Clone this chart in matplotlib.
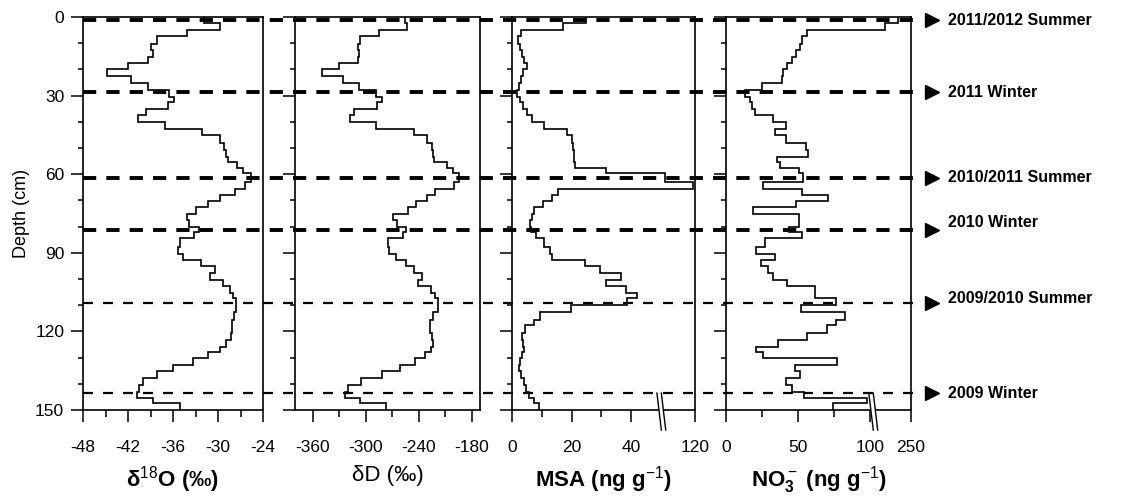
import numpy as np
import matplotlib
matplotlib.use('Agg')
import matplotlib.pyplot as plt
from matplotlib.ticker import FixedLocator, MultipleLocator

plt.rcParams['font.family'] = ['Liberation Sans', 'DejaVu Sans']
plt.rcParams['axes.unicode_minus'] = False
plt.rcParams['mathtext.fontset'] = 'custom'
plt.rcParams['mathtext.rm'] = 'Liberation Sans'
plt.rcParams['mathtext.bf'] = 'Liberation Sans:bold'
plt.rcParams['mathtext.it'] = 'Liberation Sans:italic'

# sample depth boundaries (cm)
depth_edges = [0, 2.3, 5.1, 7.4, 10.2, 12.7, 15.3, 17.4, 20.0, 22.6, 25.2, 27.7, 30.5,
               32.4, 35.0, 37.5, 40.0, 42.6, 45.1, 48.0, 50.8, 53.4, 55.3, 57.6, 59.7,
               62.9, 65.5, 67.8, 70.3, 72.7, 75.0, 77.5, 80.1, 82.0, 84.5, 87.7, 90.3,
               92.8, 95.1, 97.6, 100.4, 102.7, 105.5, 107.4, 110.0, 112.5, 115.7, 117.6,
               120.8, 123.3, 125.8, 127.8, 130.3, 132.8, 135.0, 137.9, 140.5, 143.0,
               145.5, 147.5, 150.0]

d18o = [-31.9, -29.8, -34.2, -38.2, -38.9, -38.7, -39.3, -42.0, -44.8, -41.6, -39.3, -36.5,
        -35.9, -36.7, -39.6, -40.7, -37.1, -32.1, -29.8, -29.2, -29.0, -28.7, -27.5, -26.7,
        -25.6, -26.4, -27.8, -29.8, -31.3, -32.9, -34.1, -33.9, -32.5, -33.2, -35.1, -35.3,
        -34.7, -32.2, -30.4, -31.1, -29.4, -28.4, -28.0, -27.6, -27.6, -27.9, -28.1, -28.2,
        -28.3, -28.9, -29.8, -31.3, -33.4, -36.0, -38.2, -40.0, -40.6, -40.8, -38.7, -35.1]

dD = [-256, -254, -285, -307, -309, -308, -309, -330, -350, -326, -308, -288,
      -282, -287, -313, -318, -288, -246, -231, -225, -224, -223, -208, -202,
      -195, -200, -222, -231, -243, -252, -269, -265, -255, -258, -275, -274,
      -266, -255, -246, -237, -241, -226, -222, -218, -219, -224, -227, -228,
      -225, -224, -226, -233, -244, -261, -282, -305, -320, -324, -307, -277]

msa = [24.8, 17.2, 2.9, 1.9, 2.6, 3.4, 3.9, 5.0, 3.7, 3.0, 2.2, 1.7,
       2.6, 3.7, 5.0, 6.7, 10.6, 18.4, 20.1, 20.4, 20.7, 20.9, 21.2, 31.6,
       58.0, 115.0, 15.3, 13.4, 10.4, 7.3, 6.7, 6.1, 6.4, 8.2, 10.6, 12.6,
       13.4, 24.6, 29.4, 36.5, 31.6, 38.3, 42.1, 38.5, 19.8, 9.3, 7.3, 4.5,
       3.4, 3.7, 3.9, 3.4, 2.6, 2.2, 3.0, 4.0, 4.8, 5.6, 7.3, 8.9]

no3 = [200, 149, 56.5, 52.5, 51.4, 48.6, 45.6, 42.6, 39.8, 38.7, 24.8, 13.2,
       16.7, 17.8, 20.1, 32.4, 41.7, 34.0, 41.7, 55.6, 57.2, 35.2, 37.5, 50.9,
       53.7, 25.5, 52.6, 71.0, 48.6, 19.0, 50.9, 50.5, 44.0, 52.6, 27.3, 20.8,
       34.0, 24.1, 29.4, 32.4, 42.1, 61.8, 61.8, 76.4, 51.9, 82.6, 76.4, 70.0,
       56.0, 36.3, 20.8, 25.5, 76.9, 48.0, 51.4, 41.7, 45.6, 54.2, 98.0, 74.0]

event_depths = [1.2, 28.7, 61.4, 81.3, 109.0, 143.6]
event_labels = ['2011/2012 Summer', '2011 Winter', '2010/2011 Summer',
                '2010 Winter', '2009/2010 Summer', '2009 Winter']
event_thick = [True, True, True, True, False, False]

W, H = 1129, 503
TOP, BOT = 17, 410
fig = plt.figure(figsize=(W / 100, H / 100), dpi=100)


def broken_scale(brk, frac, xmax):
    # linear up to brk, compressed after it
    def fwd(x):
        x = np.asarray(x, dtype=float)
        return np.where(x <= brk, x * frac / brk,
                        frac + (x - brk) * (1 - frac) / (xmax - brk))

    def inv(y):
        y = np.asarray(y, dtype=float)
        return np.where(y <= frac, y * brk / frac,
                        brk + (y - frac) * (xmax - brk) / (1 - frac))
    return fwd, inv


panels = [
    dict(px=(83, 263), xlim=(-48, -24), major=[-48, -42, -36, -30, -24],
         minor=[-45, -39, -33, -27], vals=d18o, label='δ$^{18}$O (‰)', bold=True),
    dict(px=(295, 480), xlim=(-380, -171), major=[-360, -300, -240, -180],
         minor=[-330, -270, -210], vals=dD, label='δD (‰)', bold=False),
    dict(px=(512, 695), xlim=(0, 120), major=[0, 20, 40, 120], minor=[10, 30],
         vals=msa, label='MSA (ng g$^{-1}$)', bold=True, brk=(50, 0.814)),
    dict(px=(726, 911), xlim=(0, 250), major=[0, 50, 100, 250], minor=[25, 75],
         vals=no3, label='NO$_\\mathbf{3}^-$ (ng g$^{-1}$)', bold=True, brk=(102, 0.794)),
]

axes = []
for i, p in enumerate(panels):
    l, r = p['px']
    ax = fig.add_axes([l / W, 1 - BOT / H, (r - l) / W, (BOT - TOP) / H])
    if 'brk' in p:
        brk, frac = p['brk']
        fwd, inv = broken_scale(brk, frac, p['xlim'][1])
        ax.set_xscale('function', functions=(fwd, inv))
    ax.stairs(p['vals'], depth_edges, orientation='horizontal', baseline=None,
              color='k', lw=1.2)
    ax.set_xlim(p['xlim'])
    ax.set_ylim(150, 0)
    ax.xaxis.set_major_locator(FixedLocator(p['major']))
    ax.xaxis.set_minor_locator(FixedLocator(p['minor']))
    ax.xaxis.set_major_formatter(matplotlib.ticker.FuncFormatter(lambda v, pos: '%d' % v))
    ax.xaxis.set_minor_formatter(matplotlib.ticker.NullFormatter())
    ax.yaxis.set_major_locator(MultipleLocator(30))
    ax.yaxis.set_minor_locator(MultipleLocator(10))
    ax.tick_params(axis='x', which='major', direction='out', length=8.5, width=1.1,
                   labelsize=12.5, pad=13)
    ax.tick_params(axis='x', which='minor', direction='out', length=5, width=1.1)
    ax.tick_params(axis='y', which='major', direction='out', length=8.5, width=1.1,
                   labelsize=12.5, pad=5)
    ax.tick_params(axis='y', which='minor', direction='out', length=3.5, width=1.1)
    for s in ax.spines.values():
        s.set_linewidth(1.2)
    if i > 0:
        ax.tick_params(axis='y', labelleft=False)
    ax.set_xlabel(p['label'], fontsize=16, fontweight='bold' if p['bold'] else 'normal',
                  labelpad=7)
    if 'brk' in p:
        f = float(fwd(brk))
        ax.plot([f - 0.010, f + 0.014], [0.043, -0.051], transform=ax.transAxes,
                color='white', lw=3.5, clip_on=False, zorder=5)
        for off in (-0.012, 0.012):
            ax.plot([f - 0.010 + off, f + 0.014 + off], [0.043, -0.051],
                    transform=ax.transAxes, color='k', lw=1.0, clip_on=False, zorder=6)
    axes.append(ax)

axes[0].set_ylabel('Depth (cm)', fontsize=13, labelpad=4)

# overlay for the season lines and labels
ov = fig.add_axes([83 / W, 1 - BOT / H, (W - 83) / W, (BOT - TOP) / H])
ov.set_xlim(0, 1)
ov.set_ylim(150, 0)
ov.axis('off')
x_end = (913 - 83) / (W - 83)
x_tri = (932 - 83) / (W - 83)
x_txt = (948 - 83) / (W - 83)
label_shift = [0, 0, 0, -2.7, -1.6, 0]
for d, lab, thick, sh in zip(event_depths, event_labels, event_thick, label_shift):
    if thick:
        ov.plot([0, x_end], [d, d], color='k', lw=2.8, dashes=(3.4, 2.6), clip_on=False)
    else:
        ov.plot([0, x_end], [d, d], color='k', lw=1.6, dashes=(4.5, 4.5), clip_on=False)
    ov.plot([x_tri], [d], marker='>', ms=10, color='k', clip_on=False)
    ov.text(x_txt, d + sh, lab, fontsize=11.5, fontweight='bold', va='center', ha='left')

fig.savefig('out.png', dpi=100)
